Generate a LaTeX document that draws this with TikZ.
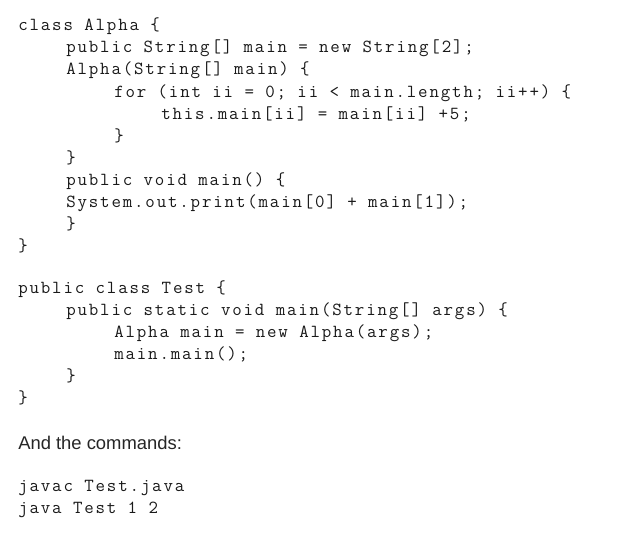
\documentclass[tikz,border=0pt]{standalone}
\usepackage{fontspec}
\setmainfont{Liberation Sans}
\newfontfamily\codefont{Latin Modern Mono}[LetterSpace=10]
\usepackage{tikz}

\begin{document}
\begin{tikzpicture}[x=0.75pt,y=-0.75pt,
		code/.style={anchor=base west,inner sep=0pt,text=black!90,font=\codefont\fontsize{13.8}{16}\selectfont},
		prose/.style={anchor=base west,inner sep=0pt,text=black!85,font=\fontsize{13.8}{16}\selectfont}]
		%%%%% START %%%%%
		\fill[white] (0, 0) rectangle (624, 537);
		\useasboundingbox (0, 0) rectangle (624, 537);
		
		\node[code] (alphaHead) at (18, 30) {class Alpha \{};
		\node[code] (alphaField) at (66, 52) {public String[] main = new String[2];};
		\node[code] (alphaCtor) at (66, 74) {Alpha(String[] main) \{};
		\node[code] (alphaFor) at (114, 97) {for (int ii = 0; ii < main.length; ii++) \{};
		\node[code] (alphaAssign) at (161, 119) {this.main[ii] = main[ii] +5;};
		\node[code] (alphaForEnd) at (114, 141) {\}};
		\node[code] (alphaCtorEnd) at (66, 163) {\}};
		\node[code] (alphaMain) at (66, 185) {public void main() \{};
		\node[code] (alphaPrint) at (66, 207) {System.out.print(main[0] + main[1]);};
		\node[code] (alphaMainEnd) at (66, 229) {\}};
		\node[code] (alphaEnd) at (18, 251) {\}};
		
		\node[code] (testHead) at (18, 293) {public class Test \{};
		\node[code] (testMain) at (66, 315) {public static void main(String[] args) \{};
		\node[code] (testNew) at (114, 337) {Alpha main = new Alpha(args);};
		\node[code] (testCall) at (114, 359) {main.main();};
		\node[code] (testMainEnd) at (66, 381) {\}};
		\node[code] (testEnd) at (18, 403) {\}};
		
		\node[prose] (commands) at (18, 449) {And the commands:};
		
		\node[code] (javac) at (18, 491) {javac Test.java};
		\node[code] (java) at (18, 513) {java Test 1 2};
		%%%%% END %%%%%
	\end{tikzpicture}
\end{document}
